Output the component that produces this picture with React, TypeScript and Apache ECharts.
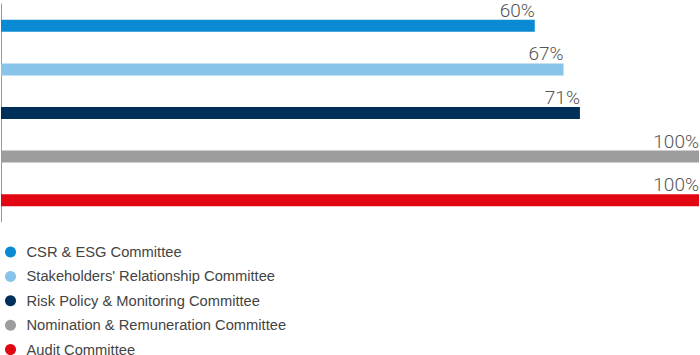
import React, { useEffect, useRef } from "react";
import * as echarts from "echarts";

const categories = [
  "CSR & ESG Committee",
  "Stakeholders' Relationship Committee",
  "Risk Policy & Monitoring Committee",
  "Nomination & Remuneration Committee",
  "Audit Committee",
];
const values = [60, 67, 71, 100, 100];
const colors = ["#0a8ad2", "#88c3ea", "#00305a", "#9d9d9d", "#e20613"];

export default function App() {
  const ref = useRef<HTMLDivElement>(null);
  useEffect(() => {
    if (!ref.current) return;
    const chart = echarts.init(ref.current, undefined, { renderer: "svg" });
    const series = categories.map((name, i) => ({
      name,
      type: "bar",
      barGap: "-100%",
      barWidth: 12,
      itemStyle: { color: colors[i] },
      data: values.map((v, j) => (j === i ? v : "-")),
      label: {
        show: true,
        position: "insideTopRight",
        distance: 0,
        align: "right",
        verticalAlign: "bottom",
        offset: [0, 0],
        formatter: "{c}%",
        color: "#555",
        fontSize: 19,
        fontFamily: "Roboto",
        fontWeight: 300,
      },
    }));
    chart.setOption({
      animation: false,
      grid: { left: 1, right: 1, top: 4, height: 218 },
      xAxis: { type: "value", min: -70, max: 100, startValue: -70, show: false },
      yAxis: {
        type: "category",
        inverse: true,
        data: categories,
        axisLine: { show: true, onZero: false, lineStyle: { color: "#999", width: 1 } },
        axisTick: { show: false },
        axisLabel: { show: false },
        splitLine: { show: false },
      },
      legend: {
        orient: "vertical",
        left: 0,
        top: 239.5,
        height: 300,
        icon: "circle",
        itemWidth: 12,
        itemHeight: 11,
        itemGap: 9.4,
        data: categories,
        textStyle: {
          fontSize: 14.7,
          color: "#444",
          fontFamily: "Liberation Sans",
          padding: [0, 0, 0, 5],
        },
      },
      series,
    });
    return () => chart.dispose();
  }, []);
  return (
    <div
      ref={ref}
      style={{ position: "absolute", left: 0, top: 0, width: 700, height: 355 }}
    />
  );
}
